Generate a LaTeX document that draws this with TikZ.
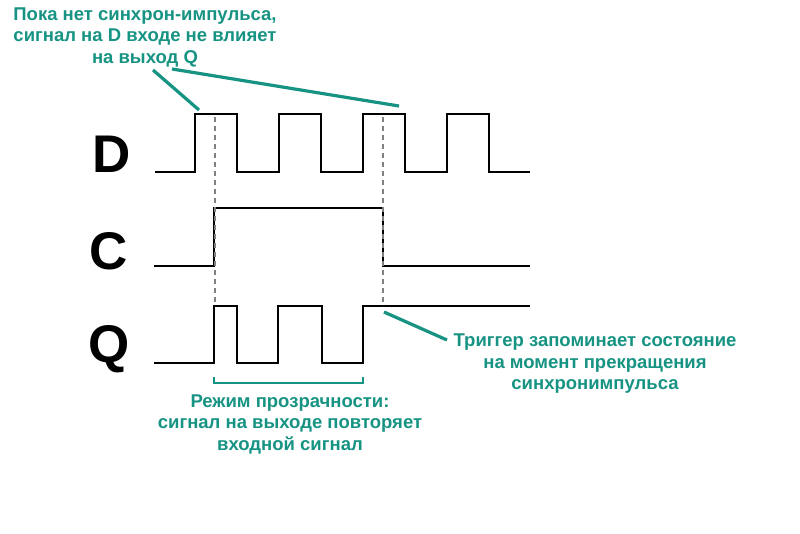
\documentclass[tikz,border=0pt]{standalone}
\usepackage{fontspec}
\setmainfont{Liberation Sans}
\usepackage{xcolor}
\usepackage{tikz}
\usetikzlibrary{positioning}
\definecolor{notecolor}{RGB}{22,147,130}

\begin{document}
\begin{tikzpicture}[x=1pt, y=-1pt, thick]
    % Stili
    \tikzstyle{wave}=[line width=2.8pt, black, line join=miter]
    \tikzstyle{guide}=[line width=2.4pt, gray, dash pattern=on 5pt off 4pt]
    \tikzstyle{note}=[text=notecolor, font=\bfseries\fontsize{18.5}{21.5}\selectfont, align=center, inner sep=0pt]
    \tikzstyle{pointer}=[line width=3.2pt, notecolor]
    \tikzstyle{signame}=[font=\bfseries\fontsize{53}{53}\selectfont, inner sep=0pt, anchor=base]

    \useasboundingbox (0,0) rectangle (800,533);

    % Nomi dei segnali
    \node (dname) [signame] at (112,172) {D};
    \node (cname) [signame] at (109,269) {C};
    \node (qname) [signame] at (109,362) {Q};

    % Segnali
    \draw [wave] (155,172) -- (195,172) -- (195,114) -- (237,114) -- (237,172)
        -- (279,172) -- (279,114) -- (321,114) -- (321,172)
        -- (363,172) -- (363,114) -- (405,114) -- (405,172)
        -- (447,172) -- (447,114) -- (489,114) -- (489,172) -- (530,172);
    \draw [wave] (154,266) -- (214,266) -- (214,208) -- (383,208) -- (383,266) -- (530,266);
    \draw [wave] (154,363) -- (214,363) -- (214,306) -- (237,306) -- (237,363)
        -- (278,363) -- (278,306) -- (322,306) -- (322,363)
        -- (363,363) -- (363,306) -- (530,306);

    % Linee guida
    \draw [guide] (215,117) -- (215,306);
    \draw [guide] (383,117) -- (383,306);

    % Note
    \node (hold) [note] at (145,37) {Пока нет синхрон-импульса,\\сигнал на D входе не влияет\\на выход Q};
    \node (latch) [note] at (595,364) {Триггер запоминает состояние\\на момент прекращения\\синхронимпульса};
    \node (transp) [note] at (290,424) {Режим прозрачности:\\сигнал на выходе повторяет\\входной сигнал};

    \coordinate (firstpulse) at (199,110);
    \coordinate (thirdpulse) at (399,106);
    \coordinate (cfall) at (384,312);
    \coordinate (latchend) at (447,340);
    \coordinate (holdleft) at (153,70);
    \coordinate (holdright) at (172,69);

    % Collegamenti
    \draw [pointer] (holdleft) -- (firstpulse);
    \draw [pointer] (holdright) -- (thirdpulse);
    \draw [pointer] (cfall) -- (latchend);
    \draw [pointer, line width=2.6pt] (214,377) -- (214,383) -- (363,383) -- (363,377);

\end{tikzpicture}
\end{document}
